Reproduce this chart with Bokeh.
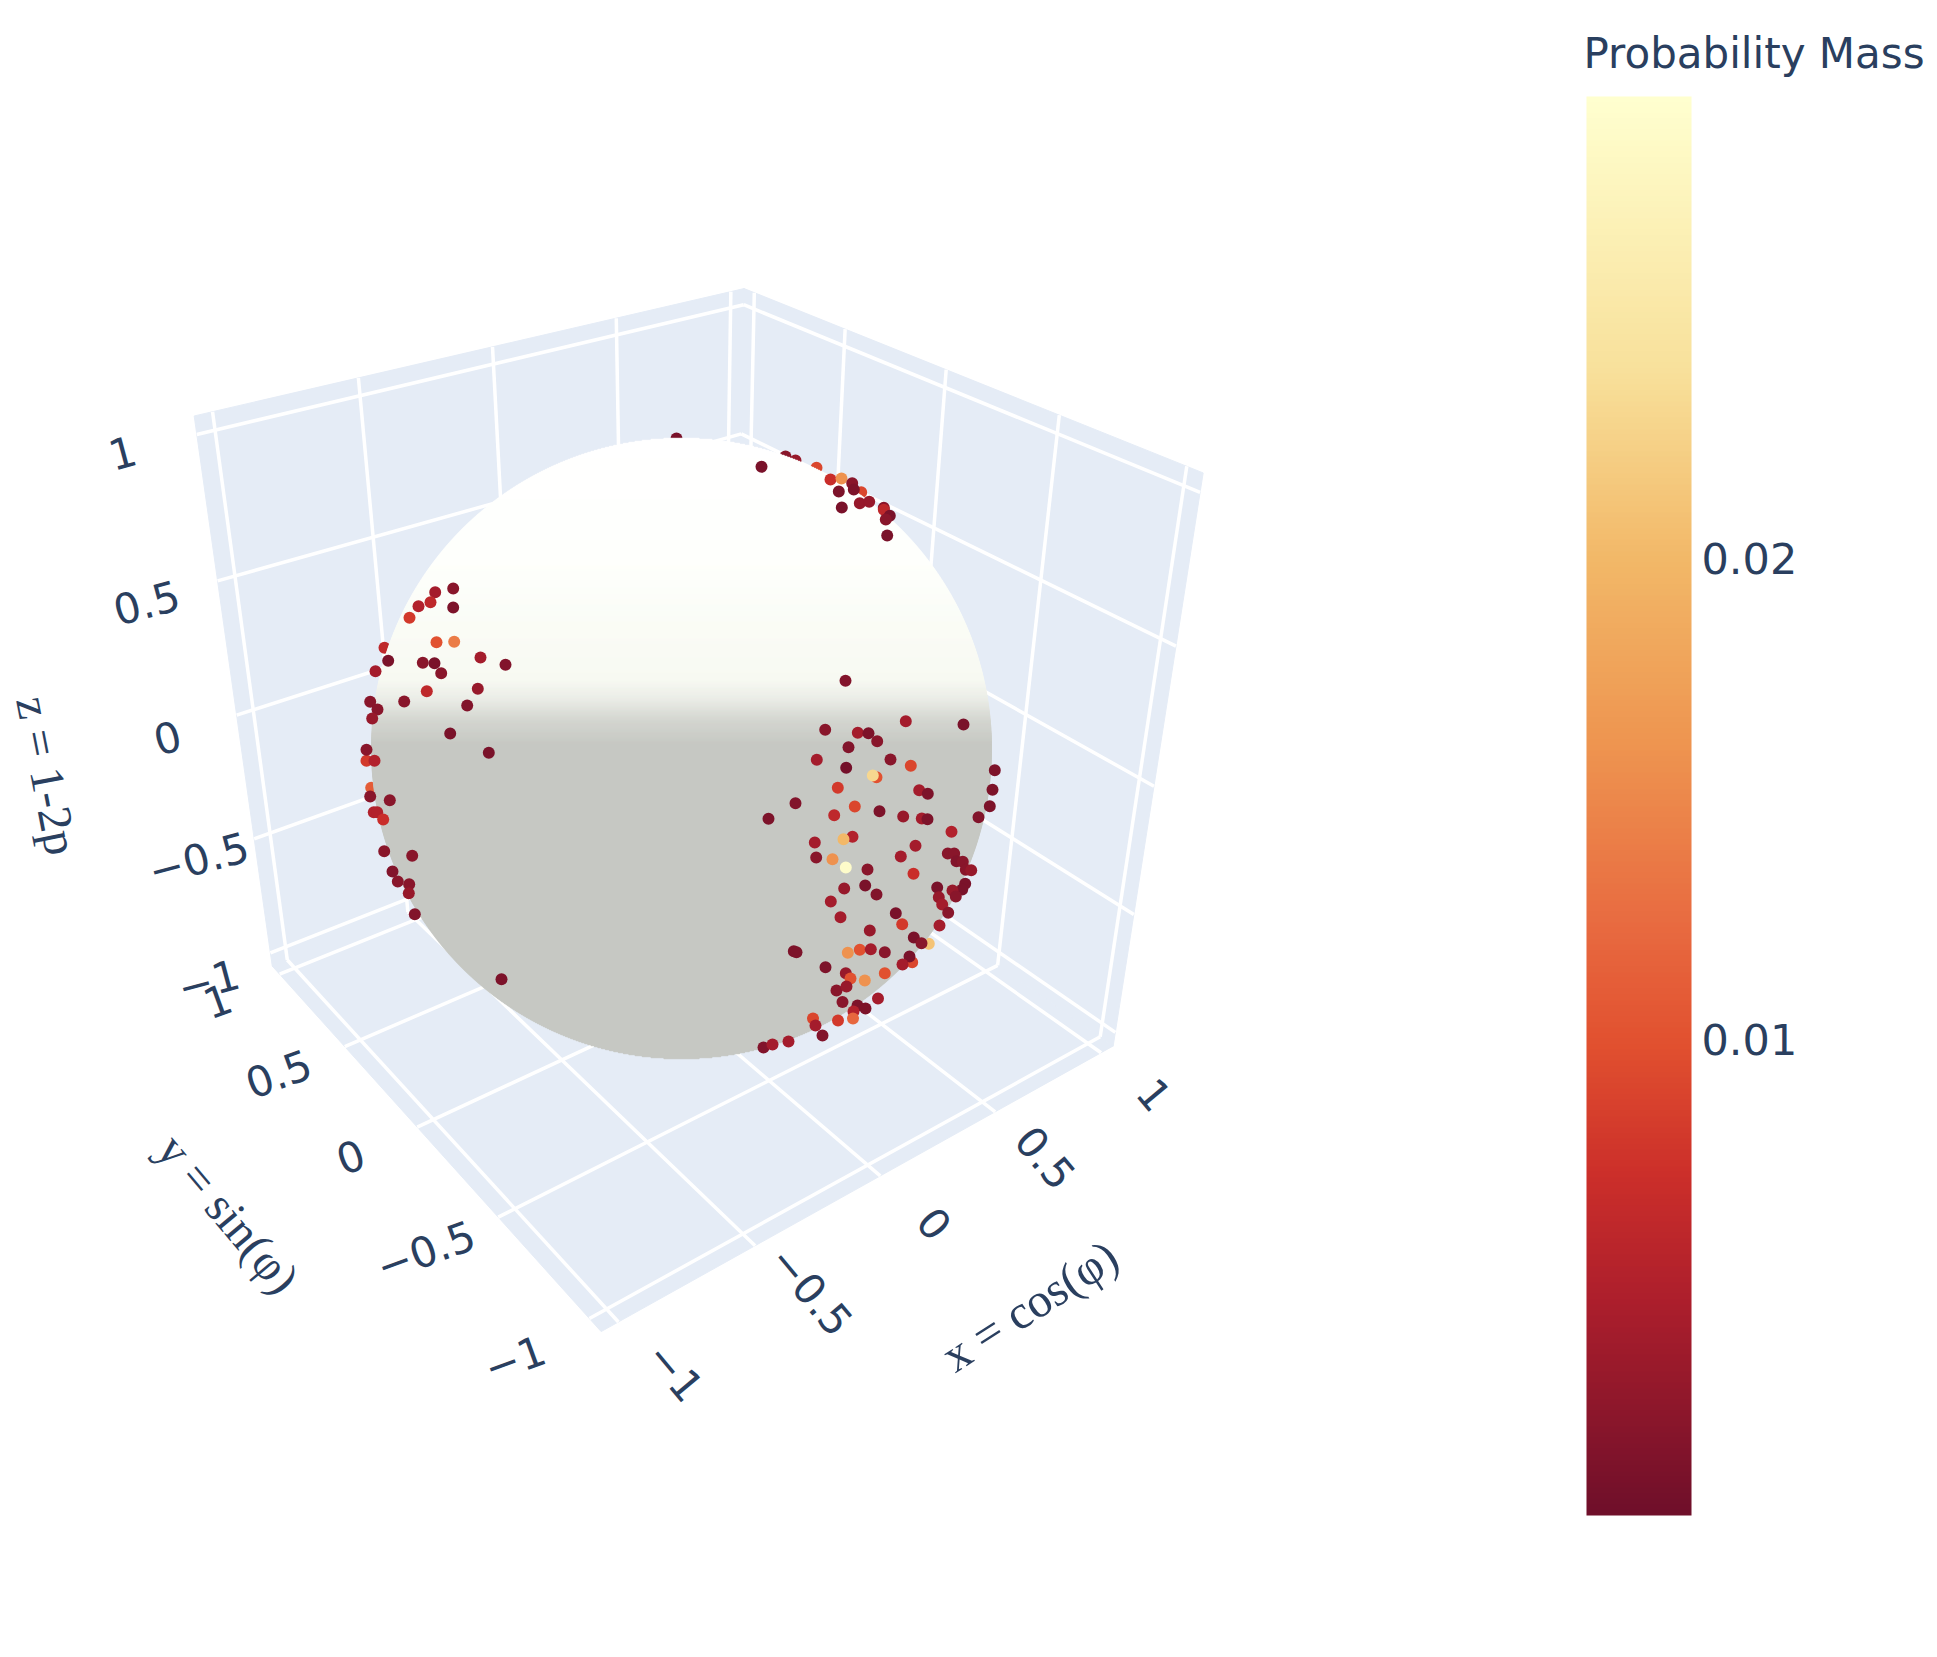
from bokeh.plotting import figure
from bokeh.models import ColorBar, FixedTicker, LinearColorMapper
from bokeh.core.properties import value
from bokeh.embed import file_html
from bokeh.resources import INLINE
import numpy as np

ticks = [-1, -0.5, 0, 0.5, 1]
tick_labels = ["\u22121", "\u22120.5", "0", "0.5", "1"]

# page positions of the tick labels
x_tick_px = [675, 811, 934, 1045, 1154]
x_tick_py = [1371, 1290, 1223, 1157, 1094]
y_tick_px = [514, 425, 350, 278, 217]
y_tick_py = [1358, 1250, 1156, 1073, 1000]
z_tick_px = [208, 198, 167, 146, 122]
z_tick_py = [980, 858, 737, 602, 452]

# box of the 3d scene, corners as seen on the page
box = 1.06
corner_xyz = [(-1, 1, -1), (-1, -1, -1), (1, -1, -1), (-1, 1, 1), (1, 1, 1), (1, -1, 1)]
corner_px = [(272, 966), (600, 1331), (1113, 1045), (194, 415), (743, 288), (1203, 473)]

sphere_cx, sphere_cy, sphere_r = 681, 748, 310

# points hidden partly by the sphere
back_x = [676, 785, 795, 816, 384, 370.7, 860.7, 871.7, 928.3]
back_y = [438, 456, 460, 467.3, 647.3, 787.3, 491.7, 734, 943.3]
back_mass = [0.001, 0.002, 0.003, 0.009, 0.006, 0.011, 0.009, 0.010, 0.021]

# right cluster
right_x = [824.7, 857.3, 868, 876.7, 905.3, 963, 848, 816.3, 845.7, 890, 910.3, 994.3, 876, 872.3,
           837.3, 918.7, 927.3, 992, 989.3, 795, 854.3, 879, 768, 833.7, 902.7, 921.3, 927, 978,
           951, 852, 843, 814.3, 915, 815.7, 832, 900.3, 947.3, 953.7, 956, 962.3, 965.3, 970.7,
           845.3, 867, 913, 936.7, 964.7, 961.7, 952, 955.3, 843.7, 864.7, 876, 938.3, 830.3,
           941.7, 947.7, 895.3, 840, 901.7, 939, 869.3, 913.3, 921, 793.3, 796, 847.3, 859.3,
           870.3, 884.3, 911.7, 909, 902, 825, 845.3, 884.3, 864.3, 850]
right_y = [729.3, 732.3, 732.7, 740.7, 720.7, 724, 746.7, 759.3, 767.3, 759, 765.3, 769.7, 776.7, 775,
           787.3, 789.7, 793.3, 789.3, 805.7, 802.7, 806, 810.7, 818.3, 814.7, 816, 818, 818.7, 816.7,
           831.3, 836.3, 838.7, 842, 845.3, 857, 858.7, 856, 853, 853, 860.7, 861.3, 869.3, 869.7,
           867, 869, 873.3, 887, 883.3, 889, 890, 896, 888, 885, 894, 896.7, 901,
           904, 912.3, 912.7, 916.7, 923.7, 925, 930, 937, 942.7, 950.7, 951.7, 952.3, 949.3,
           948.7, 951.7, 961.7, 956, 964, 966.7, 972.7, 972.7, 980, 978]
right_mass = [0.002, 0.004, 0.0012, 0.002, 0.004, 0.001, 0.0015, 0.004, 0.0005, 0.002, 0.009, 0.0012, 0.010, 0.023,
              0.008, 0.004, 0.0012, 0.0012, 0.0012, 0.0015, 0.009, 0.0012, 0.0012, 0.006, 0.003, 0.004, 0.0012, 0.0015,
              0.005, 0.005, 0.020, 0.004, 0.004, 0.002, 0.016, 0.004, 0.002, 0.002, 0.0015, 0.002, 0.002, 0.003,
              0.029, 0.002, 0.007, 0.001, 0.001, 0.001, 0.003, 0.002, 0.003, 0.001, 0.0015, 0.003, 0.004,
              0.004, 0.002, 0.001, 0.004, 0.008, 0.004, 0.003, 0.001, 0.002, 0.0012, 0.0012, 0.016, 0.010,
              0.004, 0.002, 0.009, 0.001, 0.004, 0.0012, 0.003, 0.010, 0.016, 0.010]

# lower right, along the rim
low_x = [836, 846, 842, 857, 865, 877.5, 853, 852.5, 837.5, 812.5, 815, 822, 788, 763, 772]
low_y = [990, 986, 1001.5, 1005, 1008, 998, 1011, 1018, 1020, 1018, 1025, 1035, 1041, 1047, 1044]
low_mass = [0.002, 0.003, 0.002, 0.0012, 0.0012, 0.004, 0.005, 0.012, 0.008, 0.009, 0.004, 0.0015, 0.004, 0.0015, 0.004]

# top right, along the rim
top_x = [761, 830, 841, 838.3, 841.3, 851.7, 853.3, 859.3, 868.7, 883.3, 883.3, 889.3, 885.3, 886.7, 845]
top_y = [466.3, 479, 478, 491, 507, 482.7, 489, 502.7, 501.3, 507.3, 509.3, 515.3, 519, 535, 680.3]
top_mass = [0.001, 0.007, 0.016, 0.0012, 0.001, 0.002, 0.0012, 0.003, 0.003, 0.002, 0.006, 0.001, 0.002, 0.001, 0.0015]

# left cluster
left_x = [452.7, 434.7, 452.7, 430, 418, 409, 436, 453.7, 387.7, 375, 422.3, 434, 440.7, 480, 505, 426.3,
          477.3, 466.7, 403.7, 369.7, 377, 371.7, 449.7, 488.3, 366, 374, 366, 369.7, 389.3, 373.3, 376.7,
          382.7, 383.7, 411.7, 392, 397.3, 408.7, 408.3, 414.3, 501]
left_y = [588, 591.7, 607, 601.7, 605.7, 617.3, 641.7, 641.3, 660.3, 670.7, 662.3, 662.7, 672.7, 657, 664.3, 690.7,
          688.3, 705, 701, 701.3, 709, 718, 733, 752.3, 760.3, 760.3, 749.3, 796, 799.7, 811.7, 811.7,
          819, 850.7, 855.3, 871, 881, 883.7, 892.7, 913.7, 978.7]
left_mass = [0.002, 0.004, 0.0012, 0.006, 0.005, 0.008, 0.010, 0.014, 0.001, 0.004, 0.002, 0.001, 0.002, 0.004, 0.0015, 0.006,
             0.003, 0.0015, 0.002, 0.002, 0.002, 0.003, 0.001, 0.001, 0.008, 0.005, 0.002, 0.002, 0.002, 0.005, 0.005,
             0.007, 0.002, 0.002, 0.0015, 0.002, 0.002, 0.003, 0.0015, 0.0012]

mass_low, mass_high = 0.0001, 0.0296

scale_stops = [0, 0.154, 0.24, 0.33, 0.415, 0.545, 0.675, 0.806, 1]
scale_colors = ["#6f0f2a", "#ae1f2c", "#cc2f2a", "#e1502f", "#e86a40", "#ee9550", "#f2b868", "#f8e09a", "#ffffcf"]

sphere_stops = [438, 560, 650, 680, 700, 720, 745, 1058]
sphere_colors = ["#ffffff", "#fefffc", "#f9fbf4", "#f7f9f2", "#eaece6", "#d4d6d0", "#c6c8c3", "#c6c8c3"]


def to_rgb(h):
    return [int(h[i:i + 2], 16) for i in (1, 3, 5)]


def blend(stops, colors, at):
    rgb = np.array([to_rgb(c) for c in colors])
    chans = [np.interp(at, stops, rgb[:, i]) for i in range(3)]
    return ["#%02x%02x%02x" % (round(r), round(g), round(b)) for r, g, b in zip(*chans)]


# camera of the scene, fitted to the box corners
rows, rhs = [], []
for (cx, cy, cz), (u, v) in zip(corner_xyz, corner_px):
    X, Y, Z = cx * box, cy * box, cz * box
    rows.append([X, Y, Z, 1, 0, 0, 0, 0, -u * X, -u * Y, -u * Z])
    rows.append([0, 0, 0, 0, X, Y, Z, 1, -v * X, -v * Y, -v * Z])
    rhs += [u, v]
cam = np.append(np.linalg.lstsq(np.array(rows, float), np.array(rhs, float), rcond=None)[0], 1).reshape(3, 4)


def project(pts):
    pts = np.c_[np.array(pts, float), np.ones(len(pts))]
    q = pts @ cam.T
    return list(q[:, 0] / q[:, 2]), list(q[:, 1] / q[:, 2])


W, H = 1929, 1641
p = figure(width=W, height=H, x_range=(0, W), y_range=(H, 0), output_backend="svg",
           toolbar_location=None, min_border=0, outline_line_color=None, background_fill_color="white")
p.axis.visible = False
p.grid.visible = False

# walls
b = box
walls = [[(-b, b, -b), (b, b, -b), (b, b, b), (-b, b, b)],
         [(b, b, -b), (b, -b, -b), (b, -b, b), (b, b, b)],
         [(-b, b, -b), (-b, -b, -b), (b, -b, -b), (b, b, -b)]]
for wall in walls:
    wx, wy = project(wall)
    p.patch(wx, wy, fill_color="#e5ecf6", line_color="#e5ecf6", line_width=1)

# grid lines on the walls
for t in ticks:
    for a, c in [((t, b, -b), (t, b, b)), ((-b, b, t), (b, b, t)),
                 ((b, t, -b), (b, t, b)), ((b, -b, t), (b, b, t)),
                 ((t, -b, -b), (t, b, -b)), ((-b, t, -b), (b, t, -b))]:
        gx, gy = project([a, c])
        p.line(gx, gy, line_color="white", line_width=3.5)

mapper = LinearColorMapper(palette=blend(scale_stops, scale_colors, np.linspace(0, 1, 256)),
                           low=mass_low, high=mass_high)

p.scatter("x", "y", source=dict(x=back_x, y=back_y, m=back_mass), size=12, line_color=None,
          fill_color={"field": "m", "transform": mapper})

# sphere, one chord per pixel row
rows_y = np.arange(sphere_cy - sphere_r + 0.5, sphere_cy + sphere_r)
half = np.sqrt(sphere_r ** 2 - (rows_y - sphere_cy) ** 2)
p.hbar(y=rows_y, left=sphere_cx - half, right=sphere_cx + half, height=1.4,
       color=blend(sphere_stops, sphere_colors, rows_y))

for xs, ys, ms in [(left_x, left_y, left_mass), (right_x, right_y, right_mass),
                   (low_x, low_y, low_mass), (top_x, top_y, top_mass)]:
    p.scatter("x", "y", source=dict(x=xs, y=ys, m=ms), size=12, line_color=None,
              fill_color={"field": "m", "transform": mapper})

# tick labels and axis titles
ink = "#2a3f5f"
for xs, ys, ang in [(x_tick_px, x_tick_py, -50), (y_tick_px, y_tick_py, 20), (z_tick_px, z_tick_py, 15)]:
    p.text(xs, ys, text=tick_labels, angle=np.radians(ang), text_font=value("DejaVu Sans"), text_font_size="42px",
           text_color=ink, text_align="center", text_baseline="middle")

for txt, tx, ty, ang in [("x = cos(\u03c6)", 1029, 1305, 33), ("y = sin(\u03c6)", 228, 1213, -50),
                         ("z = 1-2p", 47, 775, -79)]:
    p.text([tx], [ty], text=[txt], angle=np.radians(ang), text_font=value("Liberation Serif"), text_font_size="48px",
           text_color=ink, text_align="center", text_baseline="middle")

p.text([1583], [53], text=["Probability Mass"], text_font=value("DejaVu Sans"), text_font_size="42px",
       text_color=ink, text_align="left", text_baseline="middle")

bar = ColorBar(color_mapper=mapper, ticker=FixedTicker(ticks=[0.01, 0.02]), location=(1586, 126), width=105, height=1419,
               padding=0, margin=0, major_label_text_font="DejaVu Sans", major_label_text_font_size="43px",
               major_label_text_color=ink, major_tick_line_color=None, minor_tick_line_color=None,
               bar_line_color=None, border_line_color=None, background_fill_color=None, label_standoff=10)
p.add_layout(bar)

open("out.html", "w").write(file_html(p, INLINE))
